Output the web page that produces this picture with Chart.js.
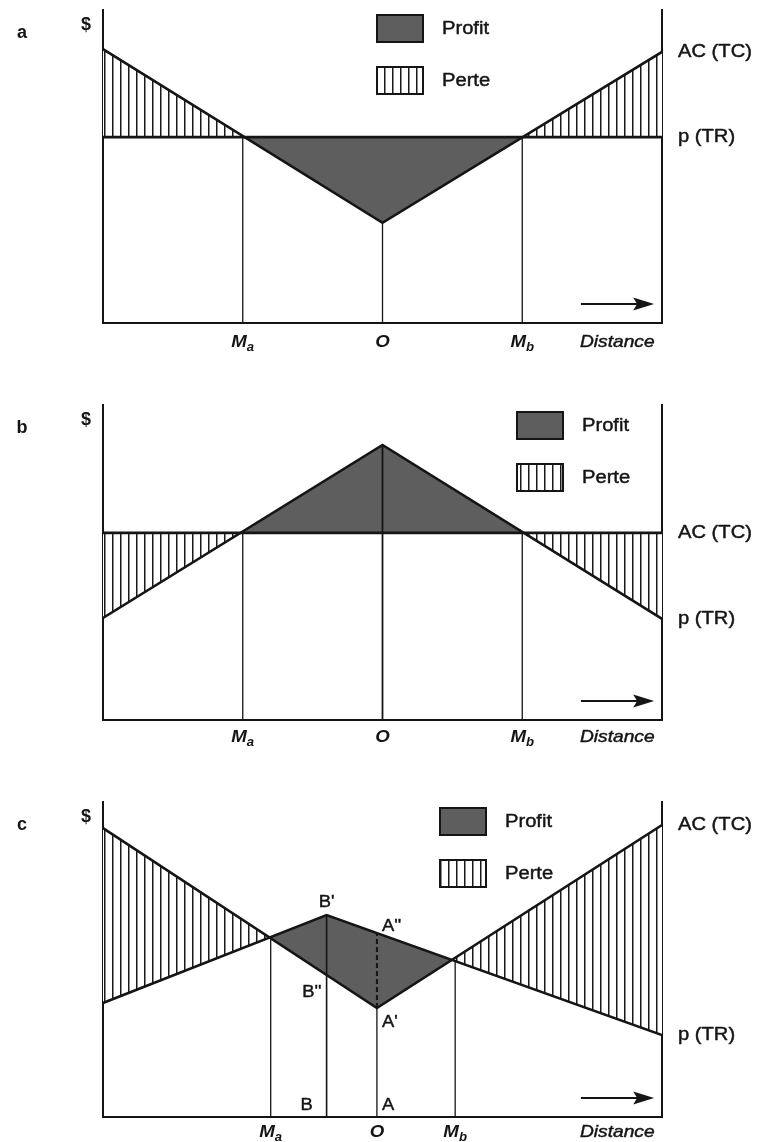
<!DOCTYPE html>
<html>
<head>
<meta charset="utf-8">
<script src="https://cdn.jsdelivr.net/npm/chart.js@4.4.1/dist/chart.umd.min.js"></script>
<style>
  html, body { margin: 0; padding: 0; background: #ffffff; }
  .panel { position: absolute; left: 0; width: 757px; }
  canvas { display: block; }
</style>
</head>
<body>
<div class="panel" style="top:0px;height:380px"><canvas id="ca" width="757" height="380"></canvas></div>
<div class="panel" style="top:380px;height:380px"><canvas id="cb" width="757" height="380"></canvas></div>
<div class="panel" style="top:760px;height:382px"><canvas id="cc" width="757" height="382"></canvas></div>
<script>
// ---------------- DATA (distance 0..100, $ 0..100) ----------------
// Panel a : U-shaped average cost, flat price
const costDistA   = [0, 50, 100];
const costA       = [87.5, 32, 86.6];
const priceDistA  = [0, 100];
const priceA      = [59.4, 59.4];
const marketsA    = [25, 50, 75];          // Ma, O, Mb
const marketTopsA = [59.4, 32, 59.4];

// Panel b : flat average cost, peaked price
const costDistB   = [0, 100];
const costB       = [59.4, 59.4];
const priceDistB  = [0, 50, 100];
const priceB      = [32.4, 87.3, 32.1];
const marketsB    = [25, 50, 75];          // Ma, O, Mb
const marketTopsB = [59.4, 87.3, 59.4];

// Panel c : cost minimum at O (A'), price maximum at B (B')
const costDistC   = [0, 49, 100];
const costC       = [91.7, 34.6, 92.7];
const priceDistC  = [0, 40, 100];
const priceC      = [36.2, 64.1, 26.0];
const marketsC    = [30, 40, 49, 63];      // Ma, B, O(A), Mb
const marketTopsC = [56.8, 64.1, 34.6, 49.8];
const dashDistC   = [49, 49];
const dashC       = [34.6, 58.4];          // A' .. A''
const pointBpp    = 45.1;                  // B'' on the cost line

const axisLabelsX = ['M|a', 'O', 'M|b', 'Distance'];
const legendLabels = ['Profit', 'Perte'];
const curveLabels = ['AC (TC)', 'p (TR)'];

// ---------------- STYLE ----------------
const INK = '#151515';
const GRAY = '#5e5e5e';
const FAM = '"Liberation Sans", Arial, Helvetica, sans-serif';

const tile = document.createElement('canvas');
tile.width = 8; tile.height = 8;
(function () {
  const g = tile.getContext('2d');
  g.fillStyle = '#ffffff'; g.fillRect(0, 0, 8, 8);
  g.fillStyle = '#1a1a1a'; g.fillRect(0, 0, 1.5, 8);
})();

function pts(xs, ys) { return xs.map((v, i) => ({ x: v, y: ys[i] })); }

function txt(ctx, s, x, y, font, align, base, sx, stroke) {
  ctx.save();
  ctx.font = font;
  ctx.textAlign = align || 'left';
  ctx.textBaseline = base || 'alphabetic';
  ctx.translate(x, y);
  ctx.scale(sx || 1, 1);
  ctx.fillText(s, 0, 0);
  if (stroke) { ctx.lineWidth = stroke; ctx.lineJoin = 'round'; ctx.strokeText(s, 0, 0); }
  ctx.restore();
}

function subLabel(ctx, label, cx, baseY) {
  const parts = label.split('|');
  const f1 = 'italic bold 17px ' + FAM;
  const f2 = 'italic bold 12px ' + FAM;
  const sx = 1.1;
  ctx.save();
  ctx.font = f1; const w1 = ctx.measureText(parts[0]).width * sx;
  let w2 = 0;
  if (parts[1]) { ctx.font = f2; w2 = ctx.measureText(parts[1]).width * sx; }
  ctx.restore();
  const start = cx - (w1 + w2) / 2;
  txt(ctx, parts[0], start, baseY, f1, 'left', 'alphabetic', sx);
  if (parts[1]) txt(ctx, parts[1], start + w1, baseY + 4, f2, 'left', 'alphabetic', sx);
}

const annot = {
  id: 'annot',
  afterDatasetsDraw(chart, args, o) {
    const { ctx, chartArea: ca, scales: { x, y } } = chart;
    const hatch = ctx.createPattern(tile, 'repeat');
    ctx.save();
    ctx.fillStyle = INK; ctx.strokeStyle = INK;

    // panel letter and $
    txt(ctx, o.letter, 22, ca.top + 28, 'bold 18px ' + FAM, 'center');
    txt(ctx, '$', 86, ca.top + 20, 'bold 18px ' + FAM, 'center');

    // bottom labels
    const by = ca.bottom + o.labelDy;
    o.marks.forEach((m, i) => subLabel(ctx, axisLabelsX[i], x.getPixelForValue(m), by));
    txt(ctx, axisLabelsX[3], x.getPixelForValue(o.distanceAt), by, 'italic 17px ' + FAM, 'center', 'alphabetic', 1.13, 0.45);

    // right-side curve labels
    const rx = ca.right + 16;
    txt(ctx, curveLabels[0], rx, y.getPixelForValue(o.costEnd), '18px ' + FAM, 'left', 'middle', 1.12, 0.45);
    txt(ctx, curveLabels[1], rx, y.getPixelForValue(o.priceEnd), '18px ' + FAM, 'left', 'middle', 1.12, 0.45);

    // legend
    const lx = o.legend.x, ly = ca.top + o.legend.dy;
    ctx.lineWidth = 2;
    ctx.fillStyle = GRAY; ctx.fillRect(lx, ly, 46, 27); ctx.strokeRect(lx, ly, 46, 27);
    ctx.fillStyle = hatch; ctx.fillRect(lx, ly + 52, 46, 27); ctx.strokeRect(lx, ly + 52, 46, 27);
    ctx.fillStyle = INK;
    txt(ctx, legendLabels[0], lx + 65, ly + 14, '18px ' + FAM, 'left', 'middle', 1.12, 0.45);
    txt(ctx, legendLabels[1], lx + 65, ly + 66, '18px ' + FAM, 'left', 'middle', 1.12, 0.45);

    // direction arrow
    const ay = ca.bottom - 19;
    const ax0 = x.getPixelForValue(85.5), ax1 = x.getPixelForValue(98.6);
    ctx.lineWidth = 2;
    ctx.beginPath(); ctx.moveTo(ax0, ay); ctx.lineTo(ax1 - 14, ay); ctx.stroke();
    ctx.beginPath(); ctx.moveTo(ax1, ay); ctx.lineTo(ax1 - 21, ay - 6.5); ctx.lineTo(ax1 - 17, ay); ctx.lineTo(ax1 - 21, ay + 6.5); ctx.closePath(); ctx.fill();

    // point labels (panel c)
    (o.points || []).forEach(p => {
      const px = x.getPixelForValue(p.x) + p.dx;
      const py = (p.y === null ? ca.bottom : y.getPixelForValue(p.y)) + p.dy;
      txt(ctx, p.text, px, py, '17px ' + FAM, p.align, 'alphabetic', 1.08, 0.45);
    });
    ctx.restore();
  }
};

function makeChart(id, cfg) {
  const canvas = document.getElementById(id);
  const ctx = canvas.getContext('2d');
  const hatch = ctx.createPattern(tile, 'repeat');
  const datasets = [
    { label: curveLabels[0], data: pts(cfg.costX, cfg.cost), borderColor: INK, borderWidth: 2.6,
      backgroundColor: GRAY, fill: { target: 1, above: hatch, below: GRAY } },
    { label: curveLabels[1], data: pts(cfg.priceX, cfg.price), borderColor: INK, borderWidth: 2.6, fill: false }
  ];
  cfg.markets.forEach((m, i) => {
    datasets.push({ label: 'market ' + i, data: [{ x: m, y: cfg.tops[i] }, { x: m, y: 0 }],
      borderColor: INK, borderWidth: cfg.markW ? cfg.markW[i] : 1.3, fill: false });
  });
  if (cfg.dashX) {
    datasets.push({ label: 'dash', data: pts(cfg.dashX, cfg.dash), borderColor: INK, borderWidth: 2,
      borderDash: [5, 3], fill: false });
  }
  const axis = (pos) => ({
    type: 'linear', position: pos, min: 0, max: 100,
    grid: { display: false, drawTicks: false },
    ticks: { display: false },
    border: { display: true, color: INK, width: 2 }
  });
  return new Chart(ctx, {
    type: 'line',
    data: { datasets },
    plugins: [annot],
    options: {
      responsive: false, animation: false, devicePixelRatio: 1, events: [],
      layout: { padding: cfg.pad },
      elements: { point: { radius: 0, hoverRadius: 0 },
                  line: { tension: 0, borderJoinStyle: 'miter', borderCapStyle: 'butt' } },
      plugins: {
        legend: { display: false }, tooltip: { enabled: false },
        filler: { drawTime: 'beforeDatasetsDraw', propagate: false },
        annot: cfg.annot
      },
      scales: { x: axis('bottom'), y: axis('left'), y2: axis('right') }
    }
  });
}

makeChart('ca', {
  costX: costDistA, cost: costA, priceX: priceDistA, price: priceA,
  markets: marketsA, tops: marketTopsA,
  pad: { left: 103, right: 95, top: 10, bottom: 57 },
  annot: { letter: 'a', marks: marketsA, distanceAt: 92, labelDy: 24,
           costEnd: costA[costA.length - 1], priceEnd: priceA[priceA.length - 1],
           legend: { x: 377, dy: 5 } }
});

makeChart('cb', {
  costX: costDistB, cost: costB, priceX: priceDistB, price: priceB,
  markets: marketsB, tops: marketTopsB, markW: [1.3, 1.8, 1.3],
  pad: { left: 103, right: 95, top: 25, bottom: 40 },
  annot: { letter: 'b', marks: marketsB, distanceAt: 92, labelDy: 22,
           costEnd: costB[costB.length - 1], priceEnd: priceB[priceB.length - 1],
           legend: { x: 517, dy: 7 } }
});

makeChart('cc', {
  costX: costDistC, cost: costC, priceX: priceDistC, price: priceC,
  markets: marketsC, tops: marketTopsC, markW: [1.3, 1.6, 1.3, 1.3],
  dashX: dashDistC, dash: dashC,
  pad: { left: 103, right: 95, top: 42, bottom: 25 },
  annot: { letter: 'c', marks: [marketsC[0], marketsC[2], marketsC[3]], distanceAt: 92, labelDy: 20,
           costEnd: costC[costC.length - 1], priceEnd: priceC[priceC.length - 1],
           legend: { x: 440, dy: 6 },
           points: [
             { text: "B'",  x: marketsC[1], y: priceC[1],   dx: 0,   dy: -8, align: 'center' },
             { text: "B''", x: marketsC[1], y: pointBpp,    dx: -5,  dy: 22, align: 'right' },
             { text: 'B',   x: marketsC[1], y: null,        dx: -20, dy: -7, align: 'center' },
             { text: "A''", x: marketsC[2], y: dashC[1],    dx: 5,   dy: -2, align: 'left' },
             { text: "A'",  x: marketsC[2], y: dashC[0],    dx: 5,   dy: 19, align: 'left' },
             { text: 'A',   x: marketsC[2], y: null,        dx: 5,   dy: -7, align: 'left' }
           ] }
});
</script>
</body>
</html>
